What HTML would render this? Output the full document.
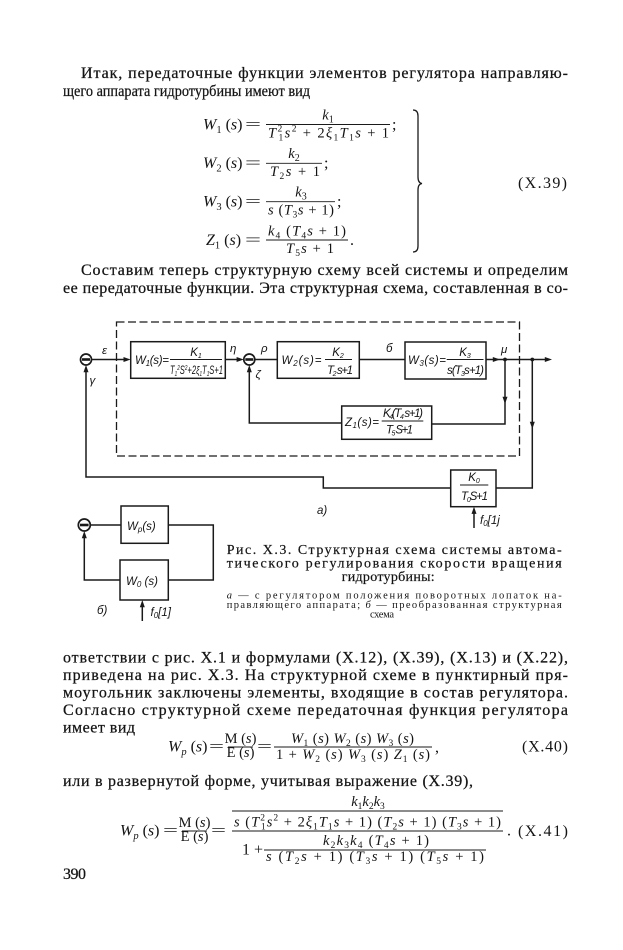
<!DOCTYPE html>
<html><head><meta charset="utf-8">
<style>
html,body{margin:0;padding:0;background:#fff;}
svg{display:block;}
text{fill:#141414;}
.b{font-family:"Liberation Serif",serif;font-size:16px;stroke:#141414;stroke-width:0.25;}
.m{font-family:"Liberation Serif",serif;font-size:16px;}
.f{font-family:"Liberation Serif",serif;font-size:14.5px;}
.i{font-style:italic;}
.d{font-family:"Liberation Sans",sans-serif;font-style:italic;font-size:11.5px;}
.c{font-family:"Liberation Serif",serif;font-size:14px;stroke:#141414;stroke-width:0.2;}
.s{font-family:"Liberation Serif",serif;font-size:10.5px;}
line,path,rect{stroke:#1a1a1a;fill:none;}
.ar{fill:#1a1a1a;stroke:none;}
</style></head><body>
<svg width="623" height="950" viewBox="0 0 623 950" xmlns="http://www.w3.org/2000/svg">
<rect x="0" y="0" width="623" height="950" style="fill:#fff;stroke:none"/>

<!-- body paragraph 1 -->
<text class="b" x="81" y="78" textLength="487">Итак, передаточные функции элементов регулятора направляю-</text>
<text class="b" x="63" y="96" font-size="15" textLength="247" lengthAdjust="spacingAndGlyphs">щего аппарата гидротурбины имеют вид</text>

<!-- X.39 -->
<text class="m" x="203" y="129.5"><tspan class="i">W</tspan><tspan font-size="10.5" dy="3.5">1</tspan><tspan dy="-3.5"> (</tspan><tspan class="i">s</tspan>)</text>
<text class="m" x="245" y="129.5" textLength="16" lengthAdjust="spacingAndGlyphs">=</text>
<line x1="266" y1="124.5" x2="390" y2="124.5" stroke-width="0.9"/>
<text class="f" x="328" y="119.5" text-anchor="middle"><tspan class="i">k</tspan><tspan font-size="10" dy="3">1</tspan></text>
<text class="f" x="268" y="137.5" textLength="121"><tspan class="i">T</tspan><tspan font-size="9.5" dy="-6">2</tspan><tspan font-size="9.5" dx="-5" dy="9">1</tspan><tspan class="i" dy="-3">s</tspan><tspan font-size="9.5" dy="-6">2</tspan><tspan dy="6"> + 2</tspan><tspan class="i">ξ</tspan><tspan font-size="9.5" dy="3">1</tspan><tspan class="i" dy="-3">T</tspan><tspan font-size="9.5" dy="3">1</tspan><tspan class="i" dy="-3">s</tspan><tspan> + 1</tspan></text>
<text class="m" x="392" y="129.5">;</text>

<text class="m" x="203" y="168"><tspan class="i">W</tspan><tspan font-size="10.5" dy="3.5">2</tspan><tspan dy="-3.5"> (</tspan><tspan class="i">s</tspan>)</text>
<text class="m" x="245" y="168" textLength="16" lengthAdjust="spacingAndGlyphs">=</text>
<line x1="266" y1="163.3" x2="322" y2="163.3" stroke-width="0.9"/>
<text class="f" x="294" y="158" text-anchor="middle"><tspan class="i">k</tspan><tspan font-size="10" dy="3">2</tspan></text>
<text class="f" x="270" y="176" textLength="50"><tspan class="i">T</tspan><tspan font-size="9.5" dy="3">2</tspan><tspan class="i" dy="-3">s</tspan><tspan> + 1</tspan></text>
<text class="m" x="324" y="168">;</text>

<text class="m" x="203" y="206.5"><tspan class="i">W</tspan><tspan font-size="10.5" dy="3.5">3</tspan><tspan dy="-3.5"> (</tspan><tspan class="i">s</tspan>)</text>
<text class="m" x="245" y="206.5" textLength="16" lengthAdjust="spacingAndGlyphs">=</text>
<line x1="266" y1="201.7" x2="335" y2="201.7" stroke-width="0.9"/>
<text class="f" x="301" y="196.5" text-anchor="middle"><tspan class="i">k</tspan><tspan font-size="10" dy="3">3</tspan></text>
<text class="f" x="268" y="214.5" textLength="66"><tspan class="i">s</tspan><tspan> (</tspan><tspan class="i">T</tspan><tspan font-size="9.5" dy="3">3</tspan><tspan class="i" dy="-3">s</tspan><tspan> + 1)</tspan></text>
<text class="m" x="337" y="206.5">;</text>

<text class="m" x="206" y="245"><tspan class="i">Z</tspan><tspan font-size="10.5" dy="3.5">1</tspan><tspan dy="-3.5"> (</tspan><tspan class="i">s</tspan>)</text>
<text class="m" x="245" y="245" textLength="16" lengthAdjust="spacingAndGlyphs">=</text>
<line x1="266" y1="240" x2="348" y2="240" stroke-width="0.9"/>
<text class="f" x="268" y="235.5" textLength="78"><tspan class="i">k</tspan><tspan font-size="9.5" dy="3">4</tspan><tspan dy="-3"> (</tspan><tspan class="i">T</tspan><tspan font-size="9.5" dy="3">4</tspan><tspan class="i" dy="-3">s</tspan><tspan> + 1)</tspan></text>
<text class="f" x="286" y="253" textLength="48"><tspan class="i">T</tspan><tspan font-size="9.5" dy="3">5</tspan><tspan class="i" dy="-3">s</tspan><tspan> + 1</tspan></text>
<text class="m" x="350" y="245">.</text>

<path d="M413,110 Q418,110 418,116 L418,177 Q418,183 422,183.5 Q418,184 418,190 L418,246 Q418,252 413,252" stroke-width="1.3"/>
<text class="m" x="518" y="188" textLength="49">(X.39)</text>

<!-- body paragraph 2 -->
<text class="b" x="81" y="275" textLength="487">Составим теперь структурную схему всей системы и определим</text>
<text class="b" x="63" y="293" textLength="505">ее передаточные функции. Эта структурная схема, составленная в со-</text>

<!-- ===== Diagram a) ===== -->
<rect x="116.5" y="322" width="403" height="134" stroke-width="1.3" stroke-dasharray="8 3.5"/>

<rect x="130.7" y="341.7" width="94.6" height="36.6" stroke-width="1.5"/>
<rect x="277.3" y="341.7" width="82" height="36.6" stroke-width="1.5"/>
<rect x="405" y="342" width="81" height="37" stroke-width="1.5"/>
<rect x="341.7" y="406" width="90" height="33.3" stroke-width="1.5"/>
<rect x="450.7" y="470" width="45.3" height="36.7" stroke-width="1.5"/>

<path d="M91.5,359.5 H126" stroke-width="1.5"/>
<path d="M225.3,359.5 H239" stroke-width="1.5"/>
<path d="M254.8,359.5 H277.3" stroke-width="1.5"/>
<path d="M359.3,359.5 H405" stroke-width="1.5"/>
<path d="M486,359.5 H547" stroke-width="1.5"/>
<path d="M505,359.5 V424 H431.7" stroke-width="1.5"/>
<path d="M341.7,423 H249.3 V370" stroke-width="1.5"/>
<path d="M532.3,359.5 V488 H496" stroke-width="1.5"/>
<path d="M450.7,488 H323.3 V477 H86 V370" stroke-width="1.5"/>
<path d="M474,528 V511" stroke-width="1.5"/>

<polygon class="ar" points="130.7,359.5 123.5,357 123.5,362"/>
<polygon class="ar" points="243.8,359.5 236.6,357 236.6,362"/>
<polygon class="ar" points="500,359.5 492.8,357 492.8,362"/>
<polygon class="ar" points="552,359.5 544.8,357 544.8,362"/>
<polygon class="ar" points="505,404 502.5,396.8 507.5,396.8"/>
<polygon class="ar" points="532.3,429 529.8,421.8 534.8,421.8"/>
<polygon class="ar" points="249.3,365 246.8,372.2 251.8,372.2"/>
<polygon class="ar" points="86,365 83.5,372.2 88.5,372.2"/>
<polygon class="ar" points="474,506.7 471.5,513.9 476.5,513.9"/>

<circle cx="86" cy="359.5" r="5.5" style="fill:#fff;stroke:#1a1a1a;stroke-width:1.7"/>
<rect x="82" y="358.2" width="8" height="2.6" style="fill:#1a1a1a;stroke:none"/>
<circle cx="249.3" cy="359.5" r="5.5" style="fill:#fff;stroke:#1a1a1a;stroke-width:1.7"/>
<rect x="245.3" y="358.2" width="8" height="2.6" style="fill:#1a1a1a;stroke:none"/>
<circle cx="505" cy="359.5" r="1.9" style="fill:#1a1a1a;stroke:none"/>
<circle cx="532.3" cy="359.5" r="1.9" style="fill:#1a1a1a;stroke:none"/>

<text class="d" x="135" y="364" textLength="34">W<tspan font-size="8" dy="2">1</tspan><tspan dy="-2">(s)=</tspan></text>
<line x1="170" y1="359.5" x2="222" y2="359.5" stroke-width="1"/>
<text class="d" x="196" y="356" font-size="10" text-anchor="middle">K<tspan font-size="7" dy="2">1</tspan></text>
<text class="d" x="170" y="374" font-size="9.5" textLength="53" lengthAdjust="spacingAndGlyphs">T<tspan font-size="7" dy="2">1</tspan><tspan font-size="7" dy="-6">2</tspan><tspan dy="4">S</tspan><tspan font-size="7" dy="-4">2</tspan><tspan dy="4">+2ξ</tspan><tspan font-size="7" dy="2">1</tspan><tspan dy="-2">T</tspan><tspan font-size="7" dy="2">1</tspan><tspan dy="-2">S+1</tspan></text>

<text class="d" x="281.5" y="364" textLength="40">W<tspan font-size="8" dy="2">2</tspan><tspan dy="-2">(s)=</tspan></text>
<line x1="325" y1="359.5" x2="352" y2="359.5" stroke-width="1"/>
<text class="d" x="338" y="356" font-size="10" text-anchor="middle">K<tspan font-size="7" dy="2">2</tspan></text>
<text class="d" x="327" y="374" font-size="10" textLength="26">T<tspan font-size="7" dy="2">2</tspan><tspan dy="-2"> s+1</tspan></text>

<text class="d" x="408" y="364" textLength="38">W<tspan font-size="8" dy="2">3</tspan><tspan dy="-2">(s)=</tspan></text>
<line x1="446.7" y1="359.5" x2="483.5" y2="359.5" stroke-width="1"/>
<text class="d" x="465" y="356" font-size="10" text-anchor="middle">K<tspan font-size="7" dy="2">3</tspan></text>
<text class="d" x="447" y="374" font-size="10.5" textLength="37">s(T<tspan font-size="7" dy="2">3</tspan><tspan dy="-2">s+1)</tspan></text>

<text class="d" x="345" y="426" textLength="34">Z<tspan font-size="8" dy="2">1</tspan><tspan dy="-2">(s)=</tspan></text>
<line x1="381.7" y1="421" x2="423.3" y2="421" stroke-width="1"/>
<text class="d" x="383" y="417" font-size="9.5" textLength="40">K<tspan font-size="7" dy="2">4</tspan><tspan dy="-2">(T</tspan><tspan font-size="7" dy="2">4</tspan><tspan dy="-2"> s+1)</tspan></text>
<text class="d" x="386" y="433.5" font-size="10" textLength="27">T<tspan font-size="7" dy="2">5</tspan><tspan dy="-2"> S+1</tspan></text>

<line x1="460" y1="485" x2="488.3" y2="485" stroke-width="1"/>
<text class="d" x="474" y="481" font-size="10" text-anchor="middle">K<tspan font-size="7" dy="2">0</tspan></text>
<text class="d" x="461" y="500" font-size="10" textLength="27">T<tspan font-size="7" dy="2">0</tspan><tspan dy="-2">S+1</tspan></text>

<text class="d" x="102" y="354" font-size="12">ε</text>
<text class="d" x="89.5" y="384" font-size="11">γ</text>
<text class="d" x="230" y="352" font-size="12">η</text>
<text class="d" x="261" y="352" font-size="12">ρ</text>
<text class="d" x="255.5" y="378" font-size="12">ζ</text>
<text class="d" x="386" y="352" font-size="12">б</text>
<text class="d" x="501" y="353" font-size="12">μ</text>
<text class="d" x="317" y="514" font-size="12">a)</text>
<text class="d" x="480" y="524" font-size="11.5">f<tspan font-size="8" dy="2">0</tspan><tspan dy="-2">[1j</tspan></text>

<!-- ===== Diagram б) ===== -->
<rect x="121" y="506" width="47.3" height="37.3" stroke-width="1.5"/>
<rect x="120" y="560" width="48.3" height="40" stroke-width="1.5"/>
<path d="M90.3,525 H121" stroke-width="1.5"/>
<path d="M168.3,525 H213.3 V580 H168.3" stroke-width="1.5"/>
<path d="M120,580 H84.3 V536" stroke-width="1.5"/>
<path d="M142.3,621 V605" stroke-width="1.5"/>
<polygon class="ar" points="84.3,531 81.8,538.2 86.8,538.2"/>
<polygon class="ar" points="142.3,600 139.8,607.2 144.8,607.2"/>
<circle cx="84.3" cy="525" r="6" style="fill:#fff;stroke:#1a1a1a;stroke-width:1.7"/>
<rect x="80" y="523.7" width="8.6" height="2.6" style="fill:#1a1a1a;stroke:none"/>
<text class="d" x="127" y="530" font-size="12">W<tspan font-size="8" dy="2">p</tspan><tspan dy="-2">(s)</tspan></text>
<text class="d" x="126" y="585" font-size="12">W<tspan font-size="8" dy="2">0</tspan><tspan dy="-2"> (s)</tspan></text>
<text class="d" x="150.5" y="616" font-size="12">f<tspan font-size="8" dy="2">0</tspan><tspan dy="-2">[1]</tspan></text>
<text class="d" x="97" y="614" font-size="12">б)</text>

<!-- caption -->
<text class="c" x="226.7" y="554" textLength="335">Рис. X.3. Структурная схема системы автома-</text>
<text class="c" x="226.7" y="567.5" textLength="335">тического регулирования скорости вращения</text>
<text class="c" x="341.7" y="581" textLength="93">гидротурбины:</text>
<text class="s" x="226.7" y="598.5" textLength="335"><tspan class="i">а</tspan> — с регулятором положения поворотных лопаток на-</text>
<text class="s" x="226.7" y="608" textLength="335">правляющего аппарата; <tspan class="i">б</tspan> — преобразованная структурная</text>
<text class="s" x="370" y="617.5" textLength="24">схема</text>

<!-- body paragraph 3 -->
<text class="b" x="63" y="662.5" textLength="505">ответствии с рис. X.1 и формулами (X.12), (X.39), (X.13) и (X.22),</text>
<text class="b" x="63" y="680" textLength="505">приведена на рис. X.3. На структурной схеме в пунктирный пря-</text>
<text class="b" x="63" y="697.5" textLength="505">моугольник заключены элементы, входящие в состав регулятора.</text>
<text class="b" x="63" y="715" textLength="505">Согласно структурной схеме передаточная функция регулятора</text>
<text class="b" x="63" y="732.5" textLength="72">имеет вид</text>

<!-- X.40 -->
<text class="m" x="168" y="751.5"><tspan class="i">W</tspan><tspan class="i" font-size="10.5" dy="3.5">p</tspan><tspan dy="-3.5"> (</tspan><tspan class="i">s</tspan>)</text>
<text class="m" x="209" y="751.5" textLength="15" lengthAdjust="spacingAndGlyphs">=</text>
<line x1="228" y1="747" x2="253" y2="747" stroke-width="0.9"/>
<text class="f" x="240.5" y="743" font-size="12" text-anchor="middle">M (<tspan class="i">s</tspan>)</text>
<text class="f" x="240.5" y="757" font-size="12" text-anchor="middle">E (<tspan class="i">s</tspan>)</text>
<text class="m" x="257" y="751.5" textLength="15" lengthAdjust="spacingAndGlyphs">=</text>
<line x1="274" y1="747" x2="432" y2="747" stroke-width="0.9"/>
<text class="f" x="291" y="743" textLength="123"><tspan class="i">W</tspan><tspan font-size="9.5" dy="3">1</tspan><tspan dy="-3"> (</tspan><tspan class="i">s</tspan><tspan>) </tspan><tspan class="i">W</tspan><tspan font-size="9.5" dy="3">2</tspan><tspan dy="-3"> (</tspan><tspan class="i">s</tspan><tspan>) </tspan><tspan class="i">W</tspan><tspan font-size="9.5" dy="3">3</tspan><tspan dy="-3"> (</tspan><tspan class="i">s</tspan><tspan>)</tspan></text>
<text class="f" x="276" y="759" textLength="154">1 + <tspan class="i">W</tspan><tspan font-size="9.5" dy="3">2</tspan><tspan dy="-3"> (</tspan><tspan class="i">s</tspan><tspan>) </tspan><tspan class="i">W</tspan><tspan font-size="9.5" dy="3">3</tspan><tspan dy="-3"> (</tspan><tspan class="i">s</tspan><tspan>) </tspan><tspan class="i">Z</tspan><tspan font-size="9.5" dy="3">1</tspan><tspan dy="-3"> (</tspan><tspan class="i">s</tspan><tspan>)</tspan></text>
<text class="m" x="435" y="752">,</text>
<text class="m" x="522" y="751.5" textLength="46">(X.40)</text>

<text class="b" x="63" y="786" textLength="410">или в развернутой форме, учитывая выражение (X.39),</text>

<!-- X.41 -->
<text class="m" x="120" y="835.5"><tspan class="i">W</tspan><tspan class="i" font-size="10.5" dy="3.5">p</tspan><tspan dy="-3.5"> (</tspan><tspan class="i">s</tspan>)</text>
<text class="m" x="163" y="835.5" textLength="15" lengthAdjust="spacingAndGlyphs">=</text>
<line x1="182" y1="831" x2="207" y2="831" stroke-width="0.9"/>
<text class="f" x="194.5" y="827" font-size="12" text-anchor="middle">M (<tspan class="i">s</tspan>)</text>
<text class="f" x="194.5" y="841" font-size="12" text-anchor="middle">E (<tspan class="i">s</tspan>)</text>
<text class="m" x="211" y="835.5" textLength="15" lengthAdjust="spacingAndGlyphs">=</text>
<line x1="232" y1="831" x2="503" y2="831" stroke-width="0.9"/>
<line x1="232" y1="811" x2="503" y2="811" stroke-width="0.9"/>
<text class="f" x="368" y="806" text-anchor="middle"><tspan class="i">k</tspan><tspan font-size="9.5" dy="3">1</tspan><tspan class="i" dy="-3">k</tspan><tspan font-size="9.5" dy="3">2</tspan><tspan class="i" dy="-3">k</tspan><tspan font-size="9.5" dy="3">3</tspan></text>
<text class="f" x="234" y="826.5" textLength="267"><tspan class="i">s</tspan><tspan> (</tspan><tspan class="i">T</tspan><tspan font-size="9.5" dy="-6">2</tspan><tspan font-size="9.5" dx="-5" dy="9">1</tspan><tspan class="i" dy="-3">s</tspan><tspan font-size="9.5" dy="-6">2</tspan><tspan dy="6"> + 2</tspan><tspan class="i">ξ</tspan><tspan font-size="9.5" dy="3">1</tspan><tspan class="i" dy="-3">T</tspan><tspan font-size="9.5" dy="3">1</tspan><tspan class="i" dy="-3">s</tspan><tspan> + 1) (</tspan><tspan class="i">T</tspan><tspan font-size="9.5" dy="3">2</tspan><tspan class="i" dy="-3">s</tspan><tspan> + 1) (</tspan><tspan class="i">T</tspan><tspan font-size="9.5" dy="3">3</tspan><tspan class="i" dy="-3">s</tspan><tspan> + 1)</tspan></text>
<text class="m" x="242" y="854.5">1 +</text>
<line x1="264" y1="850" x2="486" y2="850" stroke-width="0.9"/>
<text class="f" x="323" y="845" textLength="106"><tspan class="i">k</tspan><tspan font-size="9.5" dy="3">2</tspan><tspan class="i" dy="-3">k</tspan><tspan font-size="9.5" dy="3">3</tspan><tspan class="i" dy="-3">k</tspan><tspan font-size="9.5" dy="3">4</tspan><tspan dy="-3"> (</tspan><tspan class="i">T</tspan><tspan font-size="9.5" dy="3">4</tspan><tspan class="i" dy="-3">s</tspan><tspan> + 1)</tspan></text>
<text class="f" x="266" y="861" textLength="218"><tspan class="i">s</tspan><tspan> (</tspan><tspan class="i">T</tspan><tspan font-size="9.5" dy="3">2</tspan><tspan class="i" dy="-3">s</tspan><tspan> + 1) (</tspan><tspan class="i">T</tspan><tspan font-size="9.5" dy="3">3</tspan><tspan class="i" dy="-3">s</tspan><tspan> + 1) (</tspan><tspan class="i">T</tspan><tspan font-size="9.5" dy="3">5</tspan><tspan class="i" dy="-3">s</tspan><tspan> + 1)</tspan></text>
<text class="m" x="507" y="835.5">.</text>
<text class="m" x="518" y="836" textLength="50">(X.41)</text>

<text class="b" x="63" y="879" font-size="14" textLength="23">390</text>
</svg>
</body></html>
